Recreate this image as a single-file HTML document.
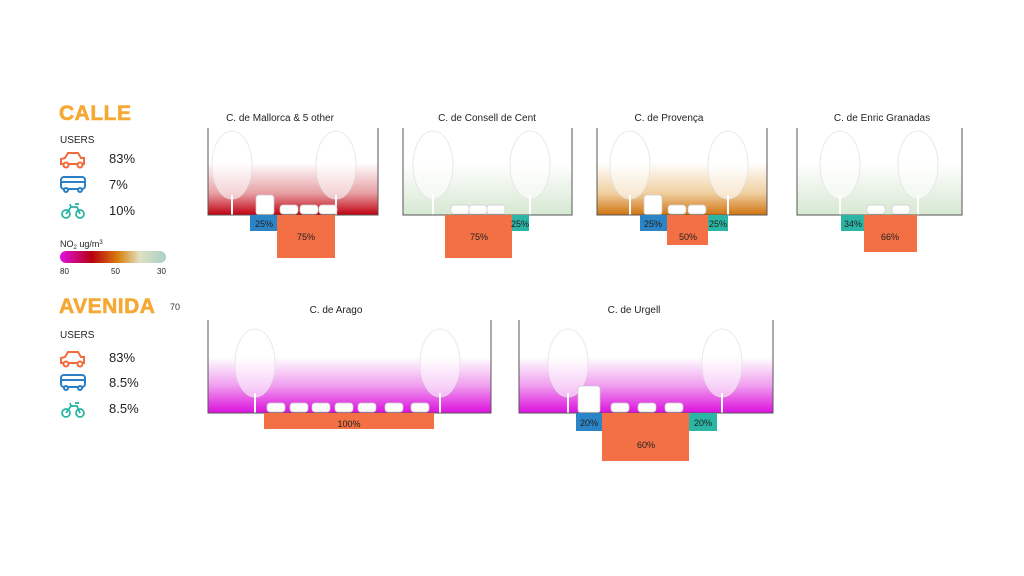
<!DOCTYPE html>
<html><head><meta charset="utf-8"><style>
html,body{margin:0;padding:0;background:#fff;width:1024px;height:576px;overflow:hidden}
svg{display:block;font-family:"Liberation Sans",sans-serif}
</style></head><body>
<svg width="1024" height="576" viewBox="0 0 1024 576" xmlns="http://www.w3.org/2000/svg">
<defs>
<linearGradient id="gR" x1="0" y1="0" x2="0" y2="1"><stop offset="0.4" stop-color="#fff"/><stop offset="0.75" stop-color="#e7a0a4"/><stop offset="1" stop-color="#c10010"/></linearGradient>
<linearGradient id="gG" x1="0" y1="0" x2="0" y2="1"><stop offset="0.4" stop-color="#fff"/><stop offset="1" stop-color="#d6e8d2"/></linearGradient>
<linearGradient id="gO" x1="0" y1="0" x2="0" y2="1"><stop offset="0.4" stop-color="#fff"/><stop offset="0.75" stop-color="#f0cfa0"/><stop offset="1" stop-color="#d07410"/></linearGradient>
<linearGradient id="gM" x1="0" y1="0" x2="0" y2="1"><stop offset="0.4" stop-color="#fff"/><stop offset="0.7" stop-color="#f0a0f0"/><stop offset="1" stop-color="#dc10dc"/></linearGradient>
<linearGradient id="gL" x1="0" y1="0" x2="1" y2="0"><stop offset="0" stop-color="#e010e0"/><stop offset="0.3" stop-color="#b80010"/><stop offset="0.55" stop-color="#d88010"/><stop offset="0.75" stop-color="#e0e0c0"/><stop offset="1" stop-color="#a8d0c8"/></linearGradient>
<g id="tree"><ellipse cx="0" cy="-50" rx="20" ry="34" fill="#fff" fill-opacity="0.55" stroke="#e4e4e4" stroke-width="0.8"/><rect x="-1" y="-20" width="2" height="20" fill="#fff"/></g>
<g id="car"><rect x="-9" y="-10" width="18" height="9" rx="3" fill="#fff" stroke="#ccc" stroke-width="0.7"/></g>
</defs>

<g font-weight="bold" fill="#f5a833" font-size="21" letter-spacing="0.5" stroke="#f5a833" stroke-width="0.6"><text x="59" y="120">CALLE</text><text x="59" y="313">AVENIDA</text></g>
<text x="170" y="310" font-size="9" fill="#333">70</text>
<g font-size="10" fill="#222"><text x="60" y="143">USERS</text><text x="60" y="338">USERS</text></g>
<g font-size="13" fill="#222">
<text x="109" y="163">83%</text><text x="109" y="189">7%</text><text x="109" y="215">10%</text>
<text x="109" y="362">83%</text><text x="109" y="387">8.5%</text><text x="109" y="413">8.5%</text>
</g>
<g fill="none" stroke-width="2">
<g stroke="#f26b3a"><path d="M61 164 v-5 l4 -1 l3 -5 h10 l3 5 h3 v6 z"/><circle cx="66" cy="165" r="2.5" fill="#fff"/><circle cx="80" cy="165" r="2.5" fill="#fff"/>
<path d="M61 363 v-5 l4 -1 l3 -5 h10 l3 5 h3 v6 z"/><circle cx="66" cy="364" r="2.5" fill="#fff"/><circle cx="80" cy="364" r="2.5" fill="#fff"/></g>
<g stroke="#2a7fc7"><rect x="61" y="177" width="24" height="12" rx="3"/><line x1="61" y1="182" x2="85" y2="182"/><circle cx="66" cy="190" r="2" fill="#fff"/><circle cx="80" cy="190" r="2" fill="#fff"/>
<rect x="61" y="375" width="24" height="12" rx="3"/><line x1="61" y1="380" x2="85" y2="380"/><circle cx="66" cy="388" r="2" fill="#fff"/><circle cx="80" cy="388" r="2" fill="#fff"/></g>
<g stroke="#22b3a0" stroke-width="1.7"><circle cx="66" cy="214" r="4"/><circle cx="80" cy="214" r="4"/><path d="M66 214 l5 -7 h6 l3 7 M71 207 l-1 -3 M75 204 h4"/>
<circle cx="66" cy="413" r="4"/><circle cx="80" cy="413" r="4"/><path d="M66 413 l5 -7 h6 l3 7 M71 406 l-1 -3 M75 403 h4"/></g>
</g>
<text x="60" y="247" font-size="9" fill="#222">NO<tspan font-size="6" dy="2">2</tspan><tspan dy="-2"> ug/m</tspan><tspan font-size="6" dy="-3">3</tspan></text>
<rect x="60" y="251" width="106" height="12" rx="6" fill="url(#gL)"/>
<g font-size="8" fill="#222"><text x="60" y="274">80</text><text x="111" y="274">50</text><text x="157" y="274">30</text></g>

<g font-size="10" fill="#222" text-anchor="middle">
<text x="280" y="121">C. de Mallorca &amp; 5 other</text>
<text x="487" y="121">C. de Consell de Cent</text>
<text x="669" y="121">C. de Provença</text>
<text x="882" y="121">C. de Enric Granadas</text>
<text x="336" y="313">C. de Arago</text>
<text x="634" y="313">C. de Urgell</text>
</g>

<rect x="208" y="128" width="170" height="87" fill="url(#gR)"/>
<use href="#tree" x="232" y="215"/><use href="#tree" x="336" y="215"/>
<use href="#car" x="289" y="215"/><use href="#car" x="309" y="215"/><use href="#car" x="328" y="215"/>
<rect x="256" y="195" width="18" height="20" rx="3" fill="#fff" stroke="#ccc" stroke-width="0.7"/>
<path d="M208 128 V215 H378 V128" fill="none" stroke="#555" stroke-width="1"/>
<rect x="250" y="215" width="27" height="16" fill="#2a84c6"/><rect x="277" y="215" width="58" height="43" fill="#f27044"/>

<rect x="403" y="128" width="169" height="87" fill="url(#gG)"/>
<use href="#tree" x="433" y="215"/><use href="#tree" x="530" y="215"/>
<use href="#car" x="460" y="215"/><use href="#car" x="478" y="215"/><use href="#car" x="496" y="215"/>
<path d="M403 128 V215 H572 V128" fill="none" stroke="#555" stroke-width="1"/>
<rect x="445" y="215" width="67" height="43" fill="#f27044"/><rect x="512" y="215" width="17" height="16" fill="#2bb5a5"/>

<rect x="597" y="128" width="170" height="87" fill="url(#gO)"/>
<use href="#tree" x="630" y="215"/><use href="#tree" x="728" y="215"/>
<rect x="644" y="195" width="18" height="20" rx="3" fill="#fff" stroke="#ccc" stroke-width="0.7"/>
<use href="#car" x="677" y="215"/><use href="#car" x="697" y="215"/>
<path d="M597 128 V215 H767 V128" fill="none" stroke="#555" stroke-width="1"/>
<rect x="640" y="215" width="27" height="16" fill="#2a84c6"/><rect x="667" y="215" width="41" height="30" fill="#f27044"/><rect x="708" y="215" width="20" height="16" fill="#2bb5a5"/>

<rect x="797" y="128" width="165" height="87" fill="url(#gG)"/>
<use href="#tree" x="840" y="215"/><use href="#tree" x="918" y="215"/>
<use href="#car" x="876" y="215"/><use href="#car" x="901" y="215"/>
<path d="M797 128 V215 H962 V128" fill="none" stroke="#555" stroke-width="1"/>
<rect x="841" y="215" width="23" height="16" fill="#2bb5a5"/><rect x="864" y="215" width="53" height="37" fill="#f27044"/>

<rect x="208" y="320" width="283" height="93" fill="url(#gM)"/>
<use href="#tree" x="255" y="413"/><use href="#tree" x="440" y="413"/>
<use href="#car" x="276" y="413"/><use href="#car" x="299" y="413"/><use href="#car" x="321" y="413"/><use href="#car" x="344" y="413"/><use href="#car" x="367" y="413"/><use href="#car" x="394" y="413"/><use href="#car" x="420" y="413"/>
<path d="M208 320 V413 H491 V320" fill="none" stroke="#555" stroke-width="1"/>
<rect x="264" y="413" width="170" height="16" fill="#f27044"/>

<rect x="519" y="320" width="254" height="93" fill="url(#gM)"/>
<use href="#tree" x="568" y="413"/><use href="#tree" x="722" y="413"/>
<rect x="578" y="386" width="22" height="27" rx="3" fill="#fff" stroke="#ccc" stroke-width="0.7"/>
<use href="#car" x="620" y="413"/><use href="#car" x="647" y="413"/><use href="#car" x="674" y="413"/>
<path d="M519 320 V413 H773 V320" fill="none" stroke="#555" stroke-width="1"/>
<rect x="576" y="413" width="26" height="18" fill="#2a84c6"/><rect x="602" y="413" width="87" height="48" fill="#f27044"/><rect x="689" y="413" width="28" height="18" fill="#2bb5a5"/>

<g font-size="9" fill="#222" text-anchor="middle">
<text x="264" y="227">25%</text><text x="306" y="240">75%</text>
<text x="479" y="240">75%</text><text x="520" y="227">25%</text>
<text x="653" y="227">25%</text><text x="688" y="240">50%</text><text x="718" y="227">25%</text>
<text x="853" y="227">34%</text><text x="890" y="240">66%</text>
<text x="349" y="427">100%</text>
<text x="589" y="426">20%</text><text x="646" y="448">60%</text><text x="703" y="426">20%</text>
</g>
</svg>
</body></html>
